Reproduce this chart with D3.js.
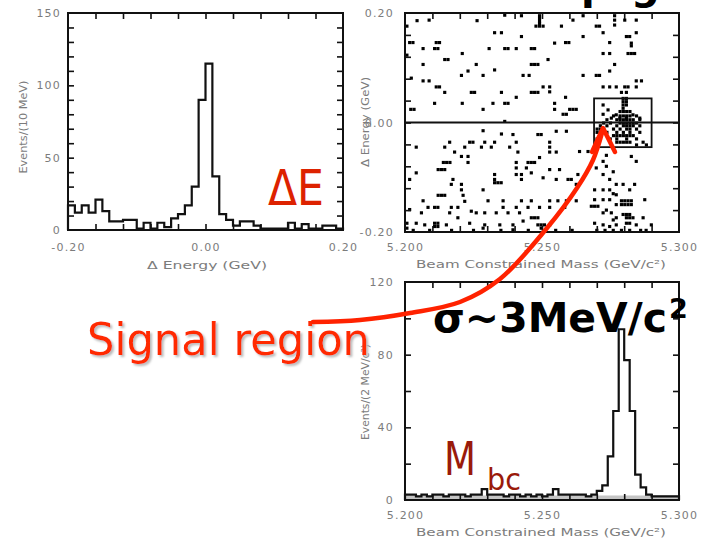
<!DOCTYPE html>
<html>
<head>
<meta charset="utf-8">
<script src="https://cdnjs.cloudflare.com/ajax/libs/d3/7.8.5/d3.min.js"></script>
<style>
body { margin: 0; background: #fff; }
</style>
</head>
<body>
<div id="chart"></div>
<script>
var svgWidth = 709;
var svgHeight = 541;

// ---- data ----
// Delta E histogram, 10 MeV bins from -0.20 GeV
var deBinStart = -0.20, deBinWidth = 0.01;
var deCounts = [17,12,17,12,21,13,6,6,7,7,1,5,1,5,2,8,11,17,30,90,
                115,37,11,7,3,6,6,3,1,1,1,1,5,1,4,1,1,3,3,1];

// Mbc histogram, 2 MeV bins from 5.200 GeV
var mbcBinStart = 5.200, mbcBinWidth = 0.002;
var mbcCounts = [3,3,2,3,2,3,3,2,3,3,3,2,3,3,6,3,3,3,2,3,
                 3,2,3,2,3,2,3,6,3,3,3,3,3,2,3,5,8,24,49,94,
                 77,49,14,7,3,2,2,2,2,2];
var mbcBkg = [2.5,2.5,2.5,2.5,2.5,2.5,2.5,2.5,2.5,2.5,2.5,2.5,2.5,2.5,2.5,2.5,2.5,2.5,2.5,2.5,
              2.5,2.5,2.5,2.5,2.5,2.5,2.5,2.5,2.5,2.5,2.5,2.5,2.5,2.5,2.5,2.5,2.5,2.5,2.5,2.5,
              2.5,2.5,2.5,2.5,2.5,2.5,2.5,2.5,2.5,2.5];

// scatter cells [Mbc GeV, Delta E GeV]
var scatterPts = [
 [5.2044,0.186],[5.2088,0.187],[5.2263,0.186],[5.2613,0.187],[5.2765,0.187],[5.2802,0.187],[5.2844,0.187],
 [5.2364,0.196],[5.2425,0.195],[5.2650,0.195],[5.2765,0.195],[5.2007,0.176],
 [5.2491,0.195],[5.2491,0.190],[5.2491,0.185],[5.2491,0.181],[5.2491,0.176],[5.2504,0.176],[5.2478,0.176],
 [5.2571,0.176],[5.2698,0.176],[5.2710,0.176],[5.2765,0.178],
 [5.2327,0.164],[5.2352,0.164],[5.2723,0.164],[5.2844,0.164],
 [5.2425,0.157],[5.2650,0.157],[5.2808,0.157],[5.2820,0.157],
 [5.2017,0.146],[5.2029,0.146],[5.2114,0.146],[5.2126,0.146],[5.2546,0.145],[5.2586,0.146],[5.2598,0.146],[5.2747,0.146],[5.2826,0.145],[5.2826,0.140],
 [5.2066,0.135],[5.2108,0.135],[5.2120,0.135],[5.2307,0.135],[5.2364,0.135],[5.2376,0.135],[5.2406,0.135],[5.2461,0.135],[5.2473,0.135],
 [5.2007,0.123],[5.2209,0.126],[5.2723,0.126],[5.2747,0.126],[5.2814,0.126],[5.2826,0.126],[5.2838,0.126],
 [5.2145,0.115],[5.2157,0.115],[5.2522,0.115],
 [5.2066,0.106],[5.2260,0.106],[5.2461,0.106],[5.2473,0.106],[5.2485,0.106],[5.2765,0.106],
 [5.2230,0.094],[5.2327,0.096],[5.2747,0.094],
 [5.2206,0.086],[5.2285,0.086],[5.2431,0.086],[5.2453,0.086],[5.2650,0.086],[5.2698,0.086],[5.2710,0.086],
 [5.2023,0.081],[5.2066,0.076],[5.2088,0.076],[5.2844,0.076],[5.2863,0.076],
 [5.2114,0.065],[5.2126,0.065],[5.2504,0.065],[5.2528,0.065],[5.2723,0.065],[5.2747,0.065],[5.2771,0.065],[5.2802,0.065],[5.2814,0.065],[5.2844,0.065],
 [5.2145,0.055],[5.2242,0.055],[5.2254,0.055],[5.2352,0.055],[5.2461,0.055],[5.2473,0.055],[5.2485,0.055],[5.2528,0.056],[5.2790,0.055],[5.2808,0.055],
 [5.2406,0.046],[5.2586,0.046],
 [5.2796,0.044],[5.2796,0.038],[5.2796,0.032],[5.2796,0.026],[5.2808,0.044],[5.2808,0.038],[5.2808,0.032],
 [5.2108,0.035],[5.2209,0.035],[5.2321,0.035],[5.2364,0.035],[5.2376,0.035],[5.2546,0.035],
 [5.2021,0.024],[5.2033,0.024],[5.2285,0.024],[5.2546,0.024],[5.2601,0.024],[5.2613,0.024],[5.2625,0.024],
 [5.2577,0.015],[5.2589,0.015],[5.2364,0.002],
 [5.2723,0.032],[5.2741,0.023],[5.2723,0.015],[5.2771,0.014],[5.2753,0.008],[5.2784,0.008],[5.2808,0.008],[5.2832,0.014],[5.2857,0.008],
 [5.2785,0.020],[5.2797,0.020],[5.2809,0.020],[5.2821,0.020],
 [5.2761,0.012],[5.2785,0.012],[5.2797,0.012],[5.2809,0.012],[5.2821,0.012],[5.2845,0.012],
 [5.2737,0.005],[5.2773,0.005],[5.2785,0.005],[5.2797,0.005],[5.2809,0.005],[5.2821,0.005],[5.2833,0.005],[5.2857,0.005],
 [5.2725,-0.001],[5.2750,-0.001],[5.2785,-0.001],[5.2797,-0.001],[5.2809,-0.001],[5.2821,-0.001],[5.2833,-0.001],[5.2845,-0.001],
 [5.2713,-0.006],[5.2737,-0.006],[5.2773,-0.006],[5.2797,-0.006],[5.2809,-0.006],[5.2821,-0.006],[5.2833,-0.006],[5.2857,-0.006],
 [5.2701,-0.012],[5.2713,-0.012],[5.2725,-0.012],[5.2761,-0.012],[5.2785,-0.012],[5.2809,-0.012],[5.2821,-0.012],[5.2845,-0.012],
 [5.2701,-0.018],[5.2713,-0.018],[5.2737,-0.018],[5.2773,-0.018],[5.2797,-0.018],[5.2821,-0.018],[5.2857,-0.018],
 [5.2761,-0.024],[5.2773,-0.024],[5.2785,-0.024],[5.2797,-0.024],[5.2809,-0.024],[5.2821,-0.024],[5.2833,-0.024],
 [5.2701,-0.030],[5.2749,-0.030],[5.2773,-0.030],[5.2809,-0.030],[5.2845,-0.030],
 [5.2773,-0.036],[5.2785,-0.036],[5.2797,-0.036],[5.2809,-0.036],[5.2821,-0.036],[5.2869,-0.036],
 [5.2845,-0.041],[5.2881,-0.041],
 [5.2285,-0.015],[5.2352,-0.021],[5.2394,-0.022],[5.2485,-0.022],[5.2497,-0.022],[5.2552,-0.016],[5.2589,-0.016],
 [5.2163,-0.036],[5.2236,-0.036],[5.2248,-0.036],[5.2291,-0.036],[5.2327,-0.036],[5.2406,-0.036],[5.2528,-0.036],
 [5.2041,-0.045],[5.2145,-0.045],[5.2218,-0.045],[5.2279,-0.045],[5.2315,-0.045],[5.2382,-0.045],[5.2528,-0.045],
 [5.2637,-0.053],[5.2668,-0.053],[5.2181,-0.054],[5.2206,-0.062],[5.2230,-0.062],[5.2412,-0.054],[5.2528,-0.054],[5.2552,-0.054],
 [5.2140,-0.073],[5.2152,-0.073],[5.2164,-0.073],[5.2230,-0.073],[5.2406,-0.073],[5.2449,-0.073],[5.2461,-0.073],[5.2473,-0.073],[5.2491,-0.064],
 [5.2121,-0.086],[5.2133,-0.086],[5.2145,-0.086],[5.2406,-0.083],[5.2443,-0.083],[5.2528,-0.086],[5.2564,-0.086],
 [5.2041,-0.092],[5.2327,-0.095],[5.2406,-0.095],[5.2425,-0.095],[5.2461,-0.092],[5.2504,-0.101],[5.2595,-0.104],[5.2607,-0.104],[5.2631,-0.095],
 [5.2175,-0.104],[5.2327,-0.104],[5.2327,-0.110],[5.2339,-0.110],[5.2351,-0.110],[5.2425,-0.104],[5.2552,-0.104],[5.2017,-0.104],
 [5.2206,-0.113],[5.2169,-0.113],[5.2625,-0.113],[5.2285,-0.123],[5.2206,-0.123],
 [5.2121,-0.133],[5.2133,-0.133],[5.2145,-0.133],[5.2212,-0.133],
 [5.2066,-0.143],[5.2218,-0.144],[5.2303,-0.143],[5.2358,-0.143],[5.2425,-0.143],[5.2461,-0.143],[5.2528,-0.143],[5.2558,-0.143],[5.2589,-0.143],[5.2625,-0.143],
 [5.2084,-0.155],[5.2108,-0.155],[5.2120,-0.155],[5.2169,-0.155],[5.2193,-0.155],[5.2242,-0.162],[5.2358,-0.155],[5.2406,-0.155],[5.2449,-0.155],[5.2491,-0.155],[5.2528,-0.155],[5.2583,-0.155],
 [5.2017,-0.159],[5.2060,-0.165],[5.2163,-0.165],[5.2260,-0.165],[5.2291,-0.165],[5.2333,-0.165],[5.2376,-0.165],[5.2418,-0.165],
 [5.2461,-0.174],[5.2473,-0.174],[5.2485,-0.174],
 [5.2007,-0.184],[5.2041,-0.184],[5.2072,-0.187],[5.2108,-0.184],[5.2120,-0.184],[5.2108,-0.190],[5.2120,-0.190],[5.2151,-0.187],[5.2193,-0.174],[5.2236,-0.184],
 [5.2291,-0.187],[5.2346,-0.187],[5.2394,-0.187],[5.2431,-0.180],[5.2485,-0.187],[5.2497,-0.187],[5.2509,-0.187],[5.2497,-0.193],[5.2528,-0.187],
 [5.2007,-0.193],[5.2285,-0.193],[5.2394,-0.196],
 [5.2692,-0.053],[5.2723,-0.071],[5.2698,-0.083],[5.2723,-0.095],[5.2747,-0.104],[5.2771,-0.113],[5.2692,-0.123],[5.2723,-0.123],[5.2747,-0.123],
 [5.2771,-0.132],[5.2692,-0.141],[5.2723,-0.141],[5.2747,-0.141],[5.2771,-0.150],
 [5.2790,-0.143],[5.2802,-0.143],[5.2814,-0.143],[5.2826,-0.143],[5.2790,-0.150],[5.2802,-0.150],[5.2814,-0.150],[5.2826,-0.150],
 [5.2820,-0.123],[5.2838,-0.113],[5.2844,-0.071],[5.2826,-0.062],[5.2796,-0.113],
 [5.2680,-0.153],[5.2692,-0.153],[5.2704,-0.153],[5.2723,-0.165],[5.2753,-0.165],
 [5.2796,-0.168],[5.2808,-0.168],[5.2820,-0.168],[5.2808,-0.174],[5.2820,-0.174],[5.2832,-0.174],[5.2771,-0.174],
 [5.2692,-0.184],[5.2723,-0.187],[5.2747,-0.190],[5.2771,-0.187],[5.2808,-0.184],[5.2820,-0.184],[5.2844,-0.187],[5.2899,-0.187],[5.2869,-0.174],[5.2875,-0.141],
 [5.2735,-0.060],[5.2735,-0.080],[5.2760,-0.090],[5.2760,-0.130],[5.2735,-0.160],[5.2760,-0.178],
 [5.2030,-0.197],[5.2090,-0.197],[5.2170,-0.197],[5.2250,-0.197],[5.2350,-0.197],[5.2450,-0.197],[5.2550,-0.197],[5.2610,-0.197],
 [5.2700,-0.197],[5.2730,-0.197],[5.2760,-0.197],[5.2790,-0.197],[5.2820,-0.197],[5.2860,-0.197],[5.2880,-0.197]
];
var signalMbc = [5.269, 5.290];
var signalDE = [-0.045, 0.044];

// ticks and labels
var deTicks = [-0.16,-0.12,-0.08,-0.04,0,0.04,0.08,0.12,0.16];
var deLabels = [-0.20, 0.00, 0.20];
var evTicksA = [10,20,30,40,50,60,70,80,90,100,110,120,130,140];
var evLabelsA = [0, 50, 100, 150];
var mbcTicks = [5.21,5.22,5.23,5.24,5.25,5.26,5.27,5.28,5.29];
var mbcLabels = [5.200, 5.250, 5.300];
var evTicksC = [20,40,60,80,100];
var evLabelsC = [0, 40, 80, 120];

var svg = d3.select("#chart")
	.append("svg")
	.attr("width", svgWidth)
	.attr("height", svgHeight);

// soft grey shadow for the red label
var shadow = svg.append("defs").append("filter").attr("id", "shadow")
	.attr("x", "-5%").attr("y", "-20%").attr("width", "110%").attr("height", "140%");
shadow.append("feDropShadow")
	.attr("dx", 2).attr("dy", 2).attr("stdDeviation", 0.8)
	.attr("flood-color", "#bbb").attr("flood-opacity", 1);

// scales for the three panels
var xA = d3.scaleLinear().domain([-0.2, 0.2]).range([68, 343]);
var yA = d3.scaleLinear().domain([0, 150]).range([230, 13]);
var xB = d3.scaleLinear().domain([5.2, 5.3]).range([405, 679]);
var yB = d3.scaleLinear().domain([-0.2, 0.2]).range([232, 13]);
var xC = d3.scaleLinear().domain([5.2, 5.3]).range([405, 679]);
var yC = d3.scaleLinear().domain([0, 120]).range([500, 282]);

var hyphen = function(f) { return function(d) { return f(d).replace("\u2212", "-"); }; };

function styleLabels(g) {
	g.select(".domain").remove();
	g.attr("font-family", "DejaVu Sans").attr("font-size", 11);
	g.selectAll("text").attr("fill", "#7c7c7c").style("letter-spacing", "1.2px");
}

function panel(x, y, xTicks, yTicks, xLabels, yLabels, fx, fy, xPad, yPad) {
	var left = x.range()[0], right = x.range()[1];
	var bottom = y.range()[0], top = y.range()[1];
	var g = svg.append("g");
	var tickStyle = function(a) {
		a.select(".domain").remove();
		a.selectAll("line").attr("stroke", "#111").attr("stroke-width", 1.6);
	};
	g.append("g").attr("transform", "translate(0," + bottom + ")")
		.call(d3.axisBottom(x).tickValues(xTicks).tickSizeInner(-6).tickSizeOuter(0).tickFormat(""))
		.call(tickStyle);
	g.append("g").attr("transform", "translate(0," + top + ")")
		.call(d3.axisTop(x).tickValues(xTicks).tickSizeInner(-6).tickSizeOuter(0).tickFormat(""))
		.call(tickStyle);
	g.append("g").attr("transform", "translate(" + left + ",0)")
		.call(d3.axisLeft(y).tickValues(yTicks).tickSizeInner(-6).tickSizeOuter(0).tickFormat(""))
		.call(tickStyle);
	g.append("g").attr("transform", "translate(" + right + ",0)")
		.call(d3.axisRight(y).tickValues(yTicks).tickSizeInner(-6).tickSizeOuter(0).tickFormat(""))
		.call(tickStyle);
	g.append("g").attr("transform", "translate(0," + bottom + ")")
		.call(d3.axisBottom(x).tickValues(xLabels).tickSize(0).tickPadding(xPad).tickFormat(fx))
		.call(styleLabels);
	g.append("g").attr("transform", "translate(" + left + ",0)")
		.call(d3.axisLeft(y).tickValues(yLabels).tickSize(0).tickPadding(yPad).tickFormat(fy))
		.call(styleLabels);
	g.append("rect")
		.attr("x", left).attr("y", top)
		.attr("width", right - left).attr("height", bottom - top)
		.attr("fill", "none").attr("stroke", "#111").attr("stroke-width", 2);
	return g;
}

function histPath(x, y, start, width, counts) {
	var pts = counts.map(function(c, i) { return [start + i * width, c]; });
	pts.unshift([start, 0]);
	pts.push([start + counts.length * width, counts[counts.length - 1]]);
	pts.push([start + counts.length * width, 0]);
	return d3.line()
		.x(function(d) { return x(d[0]); })
		.y(function(d) { return y(d[1]); })
		.curve(d3.curveStepAfter)(pts);
}

function axisTitle(txt, cx, cy, len, rot) {
	svg.append("text")
		.attr("transform", "translate(" + cx + "," + cy + ")" + (rot ? " rotate(-90)" : ""))
		.attr("text-anchor", "middle")
		.attr("font-family", "DejaVu Sans")
		.attr("font-size", 11)
		.attr("fill", "#7c7c7c")
		.attr("textLength", len)
		.attr("lengthAdjust", "spacingAndGlyphs")
		.text(txt);
}

// ---- panel A : Delta E ----
svg.append("path")
	.attr("d", histPath(xA, yA, deBinStart, deBinWidth, deCounts))
	.attr("fill", "none").attr("stroke", "#111").attr("stroke-width", 2.2);
panel(xA, yA, deTicks, evTicksA, deLabels, evLabelsA, hyphen(d3.format(".2f")), d3.format("d"), 13, 7);
axisTitle("\u0394 Energy (GeV)", 207, 269, 120, false);
axisTitle("Events/(10 MeV)", 27, 127, 93, true);

// ---- panel B : scatter ----
var cw = (xB(5.201) - xB(5.2)) * 1.15;
var ch = (yB(0) - yB(0.005)) * 1.15;
svg.append("g").selectAll("rect")
	.data(scatterPts)
	.enter().append("rect")
	.attr("x", function(d) { return xB(d[0]) - cw / 2; })
	.attr("y", function(d) { return yB(d[1]) - ch / 2; })
	.attr("width", cw)
	.attr("height", ch)
	.attr("fill", "#000");
svg.append("line")
	.attr("x1", xB(5.2)).attr("x2", xB(5.3))
	.attr("y1", yB(0)).attr("y2", yB(0))
	.attr("stroke", "#111").attr("stroke-width", 1.8);
svg.append("rect")
	.attr("x", xB(signalMbc[0])).attr("y", yB(signalDE[1]))
	.attr("width", xB(signalMbc[1]) - xB(signalMbc[0]))
	.attr("height", yB(signalDE[0]) - yB(signalDE[1]))
	.attr("fill", "none").attr("stroke", "#111").attr("stroke-width", 1.8);
panel(xB, yB, mbcTicks, deTicks, mbcLabels, deLabels, d3.format(".3f"), hyphen(d3.format(".2f")), 11, 11);
axisTitle("Beam Constrained Mass (GeV/c\u00b2)", 541, 268, 250, false);
axisTitle("\u0394 Energy (GeV)", 369, 122, 90, true);

// ---- panel C : Mbc ----
svg.append("path")
	.attr("d", histPath(xC, yC, mbcBinStart, mbcBinWidth, mbcBkg))
	.attr("fill", "#c4c4c4").attr("stroke", "none");
svg.append("path")
	.attr("d", histPath(xC, yC, mbcBinStart, mbcBinWidth, mbcCounts))
	.attr("fill", "none").attr("stroke", "#111").attr("stroke-width", 2.2);
panel(xC, yC, mbcTicks, evTicksC, mbcLabels, evLabelsC, d3.format(".3f"), d3.format("d"), 11, 11);
axisTitle("Beam Constrained Mass (GeV/c\u00b2)", 541, 536, 250, false);
axisTitle("Events/(2 MeV/c\u00b2)", 369, 392, 96, true);

// ---- annotations ----
var comic = "'Comic Sans MS', 'DejaVu Sans', sans-serif";

// slide title, cut off by the top edge in the original
svg.append("text").attr("x", 581).attr("y", -1)
	.attr("font-family", comic).attr("font-weight", "bold").attr("font-size", 40)
	.attr("fill", "#000").text("p");
svg.append("text").attr("x", 631).attr("y", -1)
	.attr("font-family", comic).attr("font-weight", "bold").attr("font-size", 40)
	.attr("fill", "#000").text("g");

svg.append("text").attr("x", 268).attr("y", 205)
	.attr("font-family", comic).attr("font-size", 50)
	.attr("fill", "#dd2200")
	.attr("textLength", 56).attr("lengthAdjust", "spacingAndGlyphs")
	.text("\u0394E");

svg.append("text").attr("x", 87).attr("y", 355)
	.attr("font-family", comic).attr("font-size", 44)
	.attr("fill", "#ff2a00")
	.attr("filter", "url(#shadow)")
	.attr("textLength", 283).attr("lengthAdjust", "spacingAndGlyphs")
	.text("Signal region");

// arrow from the label into the signal box
var arrowPts = [[313,322],[360,320],[410,313],[460,302],[500,279],[547,228],[577,188],[593,160],[602,133]];
svg.append("path")
	.attr("d", d3.line().curve(d3.curveCatmullRom)(arrowPts))
	.attr("fill", "none").attr("stroke", "#ff2200").attr("stroke-width", 4.5)
	.attr("stroke-linecap", "round");
svg.append("path")
	.attr("d", d3.line()([[592,152],[603,128],[615,152]]))
	.attr("fill", "none").attr("stroke", "#ff2200").attr("stroke-width", 4.5)
	.attr("stroke-linecap", "round").attr("stroke-linejoin", "round");

svg.append("text").attr("x", 433).attr("y", 332)
	.attr("font-family", comic).attr("font-weight", "bold").attr("font-size", 40)
	.attr("fill", "#000")
	.attr("textLength", 234).attr("lengthAdjust", "spacingAndGlyphs")
	.text("\u03c3~3MeV/c");
svg.append("text").attr("x", 669).attr("y", 318)
	.attr("font-family", comic).attr("font-weight", "bold").attr("font-size", 27)
	.attr("fill", "#000").text("2");

svg.append("text").attr("x", 444).attr("y", 475)
	.attr("font-family", comic).attr("font-size", 46)
	.attr("fill", "#9a1a0a")
	.attr("textLength", 32).attr("lengthAdjust", "spacingAndGlyphs")
	.text("M");
svg.append("text").attr("x", 487).attr("y", 490)
	.attr("font-family", comic).attr("font-size", 30)
	.attr("fill", "#9a1a0a")
	.attr("textLength", 34).attr("lengthAdjust", "spacingAndGlyphs")
	.text("bc");
</script>
</body>
</html>
